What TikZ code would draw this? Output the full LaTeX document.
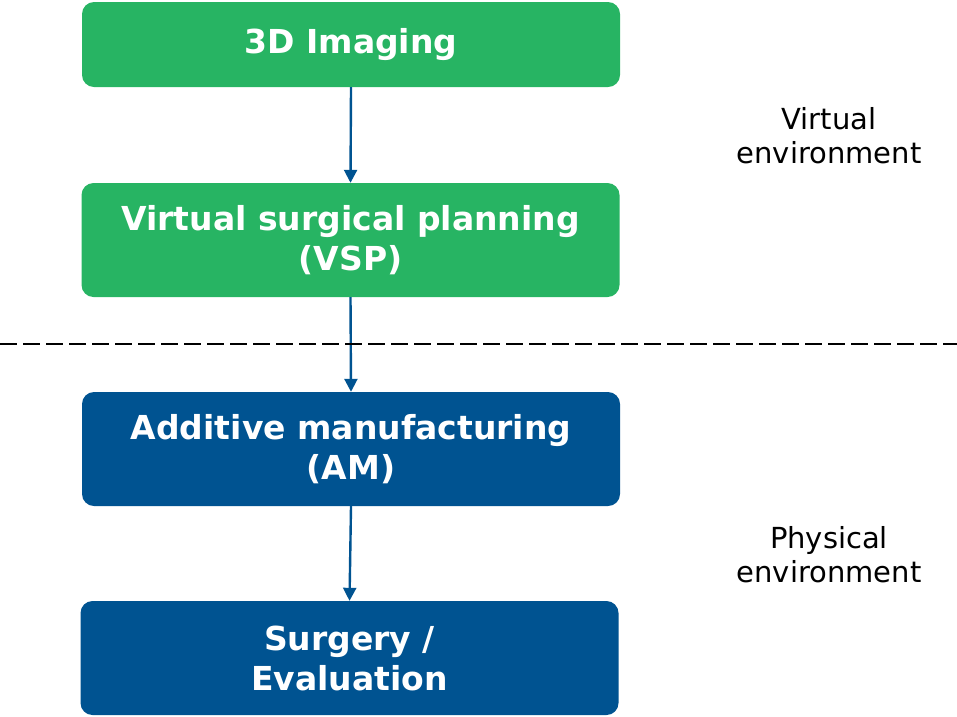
\documentclass[tikz,border=0pt]{standalone}
\usepackage{fontspec}
\setmainfont{DejaVu Sans}
\usetikzlibrary{arrows.meta}
\definecolor{stepgreen}{HTML}{27B463}
\definecolor{stepblue}{HTML}{005391}
\begin{document}
\begin{tikzpicture}[x=1pt,y=-1pt,
  box/.style={rounded corners=12pt,minimum width=538pt,text=white,align=center,
    font=\fontsize{33}{40}\selectfont\bfseries,inner sep=0pt},
  virt/.style={box,fill=stepgreen},
  phys/.style={box,fill=stepblue},
  flow/.style={draw=stepblue,line width=2.4pt,-{Triangle[length=13pt,width=13pt]}},
  side/.style={align=center,font=\fontsize{29}{34}\selectfont}]
\useasboundingbox (0,0) rectangle (957,716);
\node[virt,minimum height=85pt] (imaging) at (351,44.5) {3D Imaging};
\node[virt,minimum height=114pt] (vsp) at (350.5,240) {Virtual surgical planning\\(VSP)};
\node[phys,minimum height=114pt] (am) at (351,449) {Additive manufacturing\\(AM)};
\node[phys,minimum height=114pt] (surgery) at (349.5,658) {Surgery /\\Evaluation};
\draw[flow] (imaging.south) -- (vsp.north);
\draw[flow] (vsp.south) -- (am.north);
\draw[flow] (am.south) -- (surgery.north);
% environments
\draw[line width=2pt,dash pattern=on 17pt off 6pt] (0,344) -- (957,344);
\node[side] (virtual) at (829,136) {Virtual\\environment};
\node[side] (physical) at (829,555) {Physical\\environment};
\end{tikzpicture}
\end{document}
